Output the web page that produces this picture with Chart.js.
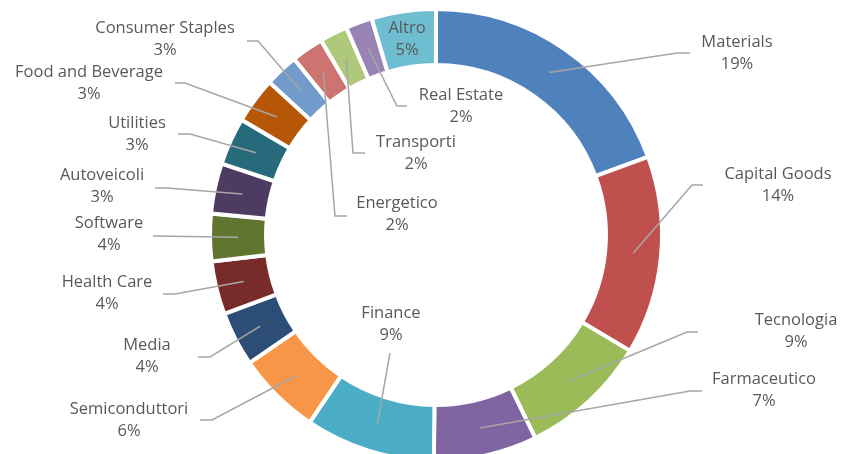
<!DOCTYPE html>
<html>
<head>
<meta charset="utf-8">
<script src="https://cdn.jsdelivr.net/npm/chart.js@4/dist/chart.umd.min.js"></script>
<style>
  html, body { margin: 0; padding: 0; background: #fff; overflow: hidden; }
  #wrap { width: 842px; height: 454px; overflow: hidden; }
</style>
</head>
<body>
<div id="wrap"><canvas id="sectorChart" width="842" height="470"></canvas></div>
<script>
// --- Dati del grafico (ordine orario partendo dall'alto) ---
const categories = ['Materials', 'Capital Goods', 'Tecnologia', 'Farmaceutico', 'Finance',
    'Semiconduttori', 'Media', 'Health Care', 'Software', 'Autoveicoli', 'Utilities',
    'Food and Beverage', 'Consumer Staples', 'Energetico', 'Transporti', 'Real Estate', 'Altro'];
const shares = [19.4, 14.2, 9.2, 7.4, 9.3, 6.0, 3.9, 3.8, 3.4, 3.6, 3.4, 3.3, 2.4, 2.3, 2.0, 1.9, 4.6];
const shareLabels = ['19%', '14%', '9%', '7%', '9%', '6%', '4%', '4%', '4%', '3%', '3%',
    '3%', '3%', '2%', '2%', '2%', '5%'];

const sliceColors = ['#4F81BD', '#C0504D', '#9BBB59', '#8064A2', '#4BACC6', '#F79646',
    '#2C4D75', '#772C2A', '#5F7530', '#4D3B62', '#276A7C', '#B65708', '#729ACA',
    '#CD7371', '#AFC97A', '#9983B5', '#6FBDD1'];

// posizione etichette (centro testo, prima riga) e punti della linea guida
const labelLayout = [
    { text: [737, 42],  line: [[677, 53], [690, 53]] },
    { text: [778, 174], line: [[692, 185], [703, 185]] },
    { text: [796, 320], line: [[687, 332], [698, 332]] },
    { text: [764, 379], line: [[690, 391], [702, 391]] },
    { text: [391, 313], line: [[390, 353]] },
    { text: [129, 409], line: [[212, 420], [200, 420]] },
    { text: [147, 345], line: [[210, 357], [198, 357]] },
    { text: [107, 282], line: [[175, 294], [163, 294]] },
    { text: [109, 223], line: [[153, 236]] },
    { text: [102, 175], line: [[167, 188], [155, 188]] },
    { text: [137, 123], line: [[190, 134], [178, 134]] },
    { text: [89, 72],   line: [[185, 83], [175, 83]] },
    { text: [165, 28],  line: [[258, 41], [247, 41]] },
    { text: [397, 203], line: [[335, 216], [347, 216]] },
    { text: [416, 142], line: [[353, 153], [365, 153]] },
    { text: [461, 95],  line: [[397, 106], [407, 106]] },
    { text: [407, 28],  line: null }
];

// plugin per le etichette con linee guida
const sliceLabels = {
    id: 'sliceLabels',
    afterDatasetsDraw(chart) {
        const ctx = chart.ctx;
        const arcs = chart.getDatasetMeta(0).data;
        ctx.save();
        ctx.font = '16.5px "Open Sans"';
        ctx.textAlign = 'center';
        ctx.textBaseline = 'middle';
        arcs.forEach(function (arc, i) {
            const lay = labelLayout[i];
            if (lay.line) {
                const p = arc.getCenterPoint();
                ctx.beginPath();
                ctx.moveTo(p.x, p.y);
                lay.line.forEach(function (pt) { ctx.lineTo(pt[0], pt[1]); });
                ctx.strokeStyle = '#A6A6A6';
                ctx.lineWidth = 1.5;
                ctx.stroke();
            }
            ctx.fillStyle = '#595959';
            ctx.fillText(categories[i], lay.text[0], lay.text[1]);
            ctx.fillText(shareLabels[i], lay.text[0], lay.text[1] + 22);
        });
        ctx.restore();
    }
};

new Chart(document.getElementById('sectorChart'), {
    type: 'doughnut',
    data: {
        labels: categories,
        datasets: [{
            data: shares,
            backgroundColor: sliceColors,
            borderColor: '#ffffff',
            borderWidth: 4,
            borderJoinStyle: 'miter'
        }]
    },
    options: {
        responsive: false,
        animation: false,
        events: [],
        cutout: '75.2%',
        layout: { padding: { left: 208, right: 178, top: 7, bottom: 7 } },
        plugins: {
            legend: { display: false },
            tooltip: { enabled: false }
        }
    },
    plugins: [sliceLabels]
});
</script>
</body>
</html>
